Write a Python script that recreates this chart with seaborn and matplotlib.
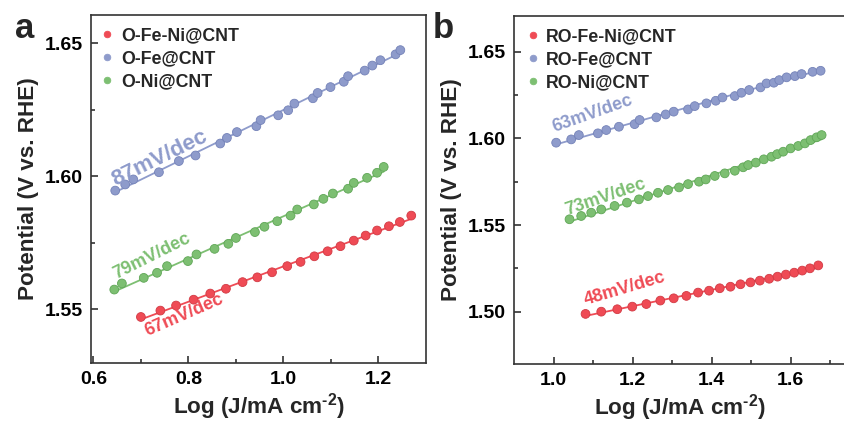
import numpy as np
import pandas as pd
import matplotlib
matplotlib.use("Agg")
import matplotlib.pyplot as plt
import matplotlib.ticker as mticker
import seaborn as sns

# ---------------- data: panel a ----------------
a_labels = ["O-Fe-Ni@CNT", "O-Fe@CNT", "O-Ni@CNT"]
a_fen_x = [0.700, 0.741, 0.774, 0.811, 0.846, 0.879, 0.914, 0.945, 0.976, 1.008,
           1.036, 1.065, 1.093, 1.120, 1.148, 1.173, 1.197, 1.222, 1.245, 1.269]
a_fen_y = [1.5471, 1.5495, 1.5514, 1.5536, 1.5559, 1.5577, 1.5602, 1.5620, 1.5639, 1.5662,
           1.5678, 1.5699, 1.5718, 1.5737, 1.5758, 1.5777, 1.5796, 1.5812, 1.5828, 1.5852]
a_fe_x = [0.646, 0.667, 0.684, 0.738, 0.780, 0.815, 0.867, 0.881, 0.902, 0.943, 0.952, 0.989,
          1.010, 1.023, 1.062, 1.072, 1.099, 1.127, 1.136, 1.171, 1.187, 1.204, 1.236, 1.246]
a_fe_y = [1.5946, 1.5969, 1.5988, 1.6015, 1.6057, 1.6078, 1.6123, 1.6144, 1.6166, 1.6188, 1.6211, 1.6229,
          1.6248, 1.6273, 1.6293, 1.6313, 1.6335, 1.6355, 1.6376, 1.6397, 1.6416, 1.6436, 1.6458, 1.6474]
a_ni_x = [0.644, 0.660, 0.706, 0.734, 0.755, 0.799, 0.817, 0.855, 0.884, 0.900, 0.940, 0.960,
          0.987, 1.015, 1.029, 1.064, 1.084, 1.104, 1.136, 1.148, 1.176, 1.197, 1.211]
a_ni_y = [1.5574, 1.5597, 1.5618, 1.5637, 1.5662, 1.5681, 1.5706, 1.5727, 1.5746, 1.5768, 1.5790, 1.5810,
          1.5831, 1.5852, 1.5875, 1.5894, 1.5915, 1.5935, 1.5953, 1.5975, 1.5994, 1.6013, 1.6035]
a_slopes = ["67mV/dec", "87mV/dec", "79mV/dec"]

# ---------------- data: panel b ----------------
b_labels = ["RO-Fe-Ni@CNT", "RO-Fe@CNT", "RO-Ni@CNT"]
b_fen_x = [1.0804, 1.1202, 1.1608, 1.1988, 1.2343, 1.2698, 1.3037, 1.3358, 1.3654, 1.3933, 1.4203,
           1.4474, 1.4728, 1.4981, 1.5218, 1.5455, 1.5666, 1.5878, 1.6089, 1.6292, 1.6487, 1.6698]
b_fen_y = [1.4987, 1.5000, 1.5014, 1.5029, 1.5044, 1.5064, 1.5077, 1.5091, 1.5110, 1.5121, 1.5135,
           1.5144, 1.5158, 1.5169, 1.5179, 1.5190, 1.5202, 1.5214, 1.5225, 1.5237, 1.5250, 1.5267]
b_fe_x = [1.0060, 1.0441, 1.0635, 1.1117, 1.1329, 1.1650, 1.2047, 1.2174, 1.2597, 1.2834, 1.3037, 1.3400,
          1.3569, 1.3865, 1.4102, 1.4271, 1.4584, 1.4753, 1.4948, 1.5235, 1.5387, 1.5573, 1.5709, 1.5895,
          1.6106, 1.6275, 1.6554, 1.6757]
b_fe_y = [1.5975, 1.5994, 1.6019, 1.6029, 1.6048, 1.6067, 1.6082, 1.6106, 1.6121, 1.6138, 1.6154, 1.6167,
          1.6186, 1.6202, 1.6217, 1.6236, 1.6244, 1.6263, 1.6279, 1.6294, 1.6317, 1.6321, 1.6336, 1.6352,
          1.6359, 1.6371, 1.6384, 1.6390]
b_ni_x = [1.0398, 1.0694, 1.0948, 1.1202, 1.1540, 1.1853, 1.2157, 1.2385, 1.2639, 1.2893, 1.3172, 1.3400,
          1.3679, 1.3848, 1.4077, 1.4330, 1.4584, 1.4795, 1.4922, 1.5117, 1.5320, 1.5514, 1.5658, 1.5810,
          1.5996, 1.6190, 1.6360, 1.6504, 1.6656, 1.6783]
b_ni_y = [1.5533, 1.5552, 1.5571, 1.5590, 1.5610, 1.5629, 1.5648, 1.5667, 1.5686, 1.5702, 1.5717, 1.5736,
          1.5750, 1.5763, 1.5783, 1.5798, 1.5813, 1.5833, 1.5846, 1.5860, 1.5879, 1.5894, 1.5909, 1.5923,
          1.5942, 1.5956, 1.5971, 1.5990, 1.6006, 1.6019]
b_slopes = ["48mV/dec", "63mV/dec", "73mV/dec"]

colors = ["#EF4B55", "#8E9BCB", "#7DBF72"]
edge_colors = ["#D23A44", "#7482B8", "#5FA656"]

sns.set_theme(style="ticks")
plt.rcParams["font.family"] = ["Liberation Sans", "DejaVu Sans"]
plt.rcParams["font.weight"] = "bold"
plt.rcParams["axes.labelweight"] = "bold"
plt.rcParams["mathtext.fontset"] = "custom"
plt.rcParams["mathtext.rm"] = "Liberation Sans:bold"
plt.rcParams["mathtext.bf"] = "Liberation Sans:bold"
plt.rcParams["mathtext.it"] = "Liberation Sans:bold"

fig = plt.figure(figsize=(8.44, 4.23), dpi=100)
ax_a = fig.add_axes([91 / 844, 60 / 423, 335 / 844, 348 / 423])
ax_b = fig.add_axes([514.3 / 844, 59 / 423, 331.7 / 844, 348 / 423])


def make_df(labels, xs, ys):
    rows = []
    for lab, x, y in zip(labels, xs, ys):
        for xi, yi in zip(x, y):
            rows.append({"x": xi, "y": yi, "series": lab})
    return pd.DataFrame(rows)


def draw(ax, labels, xs, ys, anchor):
    df = make_df(labels, xs, ys)
    for lab, c in zip(labels, colors):
        sub = df[df["series"] == lab]
        sns.regplot(data=sub, x="x", y="y", ax=ax, scatter=False, ci=None,
                    line_kws=dict(color=c, lw=1.3, zorder=2))
    sns.scatterplot(data=df, x="x", y="y", hue="series", hue_order=labels,
                    palette=colors, s=40, linewidth=0.6, edgecolor=None,
                    ax=ax, zorder=3, legend=True)
    coll = ax.collections[-1]
    ec = [edge_colors[labels.index(s)] for s in df["series"]]
    coll.set_edgecolors(ec)
    leg = ax.legend(loc="upper left", frameon=False, fontsize=12.8,
                    handlelength=0.8, handletextpad=0.35, labelspacing=0.33,
                    borderaxespad=0.0, borderpad=0.0,
                    bbox_to_anchor=anchor, markerscale=0.75)
    for t in leg.get_texts():
        t.set_fontweight("bold")


draw(ax_a, a_labels, [a_fen_x, a_fe_x, a_ni_x], [a_fen_y, a_fe_y, a_ni_y], (0.028, 0.964))
draw(ax_b, b_labels, [b_fen_x, b_fe_x, b_ni_x], [b_fen_y, b_fe_y, b_ni_y], (0.035, 0.964))

ax_a.set_xlim(0.595, 1.3)
ax_a.set_ylim(1.5298, 1.6606)
ax_a.set_xticks([0.6, 0.8, 1.0, 1.2])
ax_a.set_xticks([0.7, 0.9, 1.1], minor=True)
ax_a.set_yticks([1.55, 1.60, 1.65])
ax_a.set_yticks([1.575, 1.625], minor=True)

ax_b.set_xlim(0.9, 1.74)
ax_b.set_ylim(1.4698, 1.6706)
ax_b.set_xticks([1.0, 1.2, 1.4, 1.6])
ax_b.set_xticks([1.1, 1.3, 1.5, 1.7], minor=True)
ax_b.set_yticks([1.50, 1.55, 1.60, 1.65])
ax_b.set_yticks([1.525, 1.575, 1.625], minor=True)

for ax in (ax_a, ax_b):
    ax.set_xlabel(r"Log (J/mA cm$^{\text{-2}}$)", fontsize=16.2, fontweight="bold", labelpad=2)
    ax.set_ylabel("Potential (V vs. RHE)", fontsize=16.2, fontweight="bold", labelpad=4)
    ax.tick_params(which="major", direction="in", length=5, width=1.1, labelsize=14,
                   pad=6, colors="#222222", labelcolor="black")
    ax.tick_params(which="minor", direction="in", length=3, width=1.1, colors="#222222")
    for lab in ax.get_xticklabels() + ax.get_yticklabels():
        lab.set_fontweight("bold")
    for sp in ax.spines.values():
        sp.set_visible(True)
        sp.set_linewidth(1.2)
        sp.set_color("#333333")
    ax.xaxis.set_major_formatter(mticker.FormatStrFormatter("%.1f"))
    ax.yaxis.set_major_formatter(mticker.FormatStrFormatter("%.2f"))

# slope annotations (panel a)
ax_a.text(0.646, 1.5962, a_slopes[1], color=colors[1], fontsize=16, fontweight="bold",
          rotation=26, rotation_mode="anchor", ha="left", va="baseline")
ax_a.text(0.648, 1.5612, a_slopes[2], color=colors[2], fontsize=13, fontweight="bold",
          rotation=26.5, rotation_mode="anchor", ha="left", va="baseline")
ax_a.text(0.714, 1.5398, a_slopes[0], color=colors[0], fontsize=13, fontweight="bold",
          rotation=23.5, rotation_mode="anchor", ha="left", va="baseline")

# slope annotations (panel b)
ax_b.text(1.002, 1.6035, b_slopes[1], color=colors[1], fontsize=13, fontweight="bold",
          rotation=19.5, rotation_mode="anchor", ha="left", va="baseline")
ax_b.text(1.034, 1.5560, b_slopes[2], color=colors[2], fontsize=13, fontweight="bold",
          rotation=19, rotation_mode="anchor", ha="left", va="baseline")
ax_b.text(1.080, 1.5040, b_slopes[0], color=colors[0], fontsize=13, fontweight="bold",
          rotation=16.5, rotation_mode="anchor", ha="left", va="baseline")

fig.text(15 / 844, 1 - 38 / 423, "a", fontsize=25, fontweight="bold", ha="left", va="baseline")
fig.text(433 / 844, 1 - 38 / 423, "b", fontsize=25, fontweight="bold", ha="left", va="baseline")

fig.savefig("out.png", dpi=100)
